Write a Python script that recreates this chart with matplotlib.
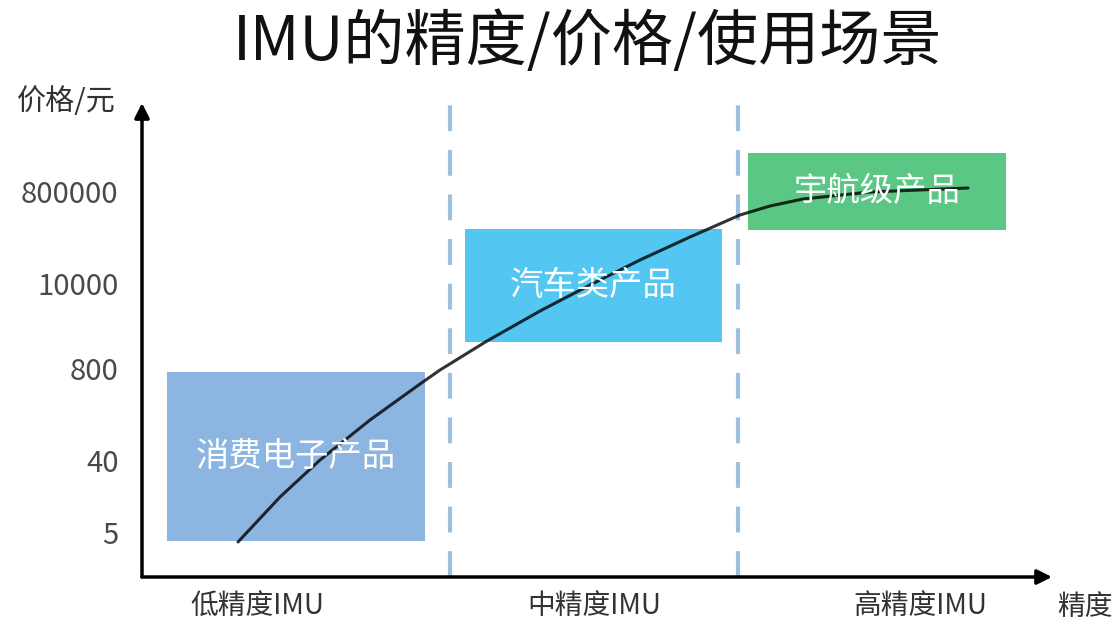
import matplotlib.pyplot as plt
from matplotlib.patches import Rectangle

plt.rcParams['font.family'] = ['Noto Sans CJK SC', 'DejaVu Sans']

# data (x: precision units, y: price level units)
levels = ['低精度IMU', '中精度IMU', '高精度IMU']
level_pos = [1.15, 4.52, 7.78]
price_labels = ['5', '40', '800', '10000', '800000']
price_pos = [0.44, 1.17, 2.08, 2.94, 3.86]
boundaries = [3.08, 5.96]

products = ['消费电子产品', '汽车类产品', '宇航级产品']
prod_x0 = [0.25, 3.23, 6.06]
prod_x1 = [2.83, 5.80, 8.64]
prod_y0 = [0.36, 2.35, 3.47]
prod_y1 = [2.05, 3.48, 4.24]
prod_colors = ['#8db5e1', '#53c6f1', '#5bc784']

curve_x = [0.96, 1.38, 1.78, 2.28, 2.78, 2.98, 3.45, 3.98, 4.48, 4.98,
           5.48, 5.98, 6.28, 6.61, 7.28, 8.26]
curve_y = [0.35, 0.80, 1.17, 1.57, 1.93, 2.07, 2.36, 2.66, 2.92, 3.17,
           3.40, 3.62, 3.71, 3.78, 3.85, 3.89]

#%%
fig = plt.figure(figsize=(11.18, 6.24), dpi=100)
ax = fig.add_axes([142/1118, 47/624, 910/1118, 474/624])
ax.set_xlim(0, 9.10)
ax.set_ylim(0, 4.74)
for s in ax.spines.values():
  s.set_visible(False)

for name, x0, x1, y0, y1, c in zip(products, prod_x0, prod_x1, prod_y0, prod_y1, prod_colors):
  ax.add_patch(Rectangle((x0, y0), x1 - x0, y1 - y0, color=c, lw=0, zorder=1))
  ax.text((x0 + x1) / 2, (y0 + y1) / 2, name, color='white', fontsize=24,
          ha='center', va='center', zorder=4)

ax.plot(curve_x, curve_y, color='black', alpha=0.8, lw=2.2, zorder=3,
        solid_capstyle='round', solid_joinstyle='round')

for b in boundaries:
  ax.plot([b, b], [0, 4.74], color='#9fbfdf', lw=3, ls=(0, (6.2, 4.5)),
          zorder=2, clip_on=False)

# axis arrows
arrow = dict(arrowstyle='-|>', lw=2.5, color='black', mutation_scale=22,
             shrinkA=0, shrinkB=0)
ax.annotate('', xy=(1, 0), xytext=(0, 0), xycoords='axes fraction', arrowprops=arrow)
ax.annotate('', xy=(0, 1), xytext=(0, 0), xycoords='axes fraction', arrowprops=arrow)

ax.set_yticks(price_pos, price_labels)
ax.set_xticks(level_pos, levels)
ax.tick_params(axis='y', length=0, pad=17, labelsize=21, labelcolor='#4a4a4a')
ax.tick_params(axis='x', length=0, pad=10, labelsize=20, labelcolor='#333333')

ax.text(9.43, -0.30, '精度', fontsize=20, color='#333333', ha='center',
        va='center', clip_on=False)
fig.text(66/1118, 1 - 102/624, '价格/元', fontsize=21, color='#333333',
         ha='center', va='center')
fig.text(0.526, 1 - 43/624, 'IMU的精度/价格/使用场景', fontsize=44,
         color='#111111', ha='center', va='center')

fig.savefig('out.png', dpi=100)
